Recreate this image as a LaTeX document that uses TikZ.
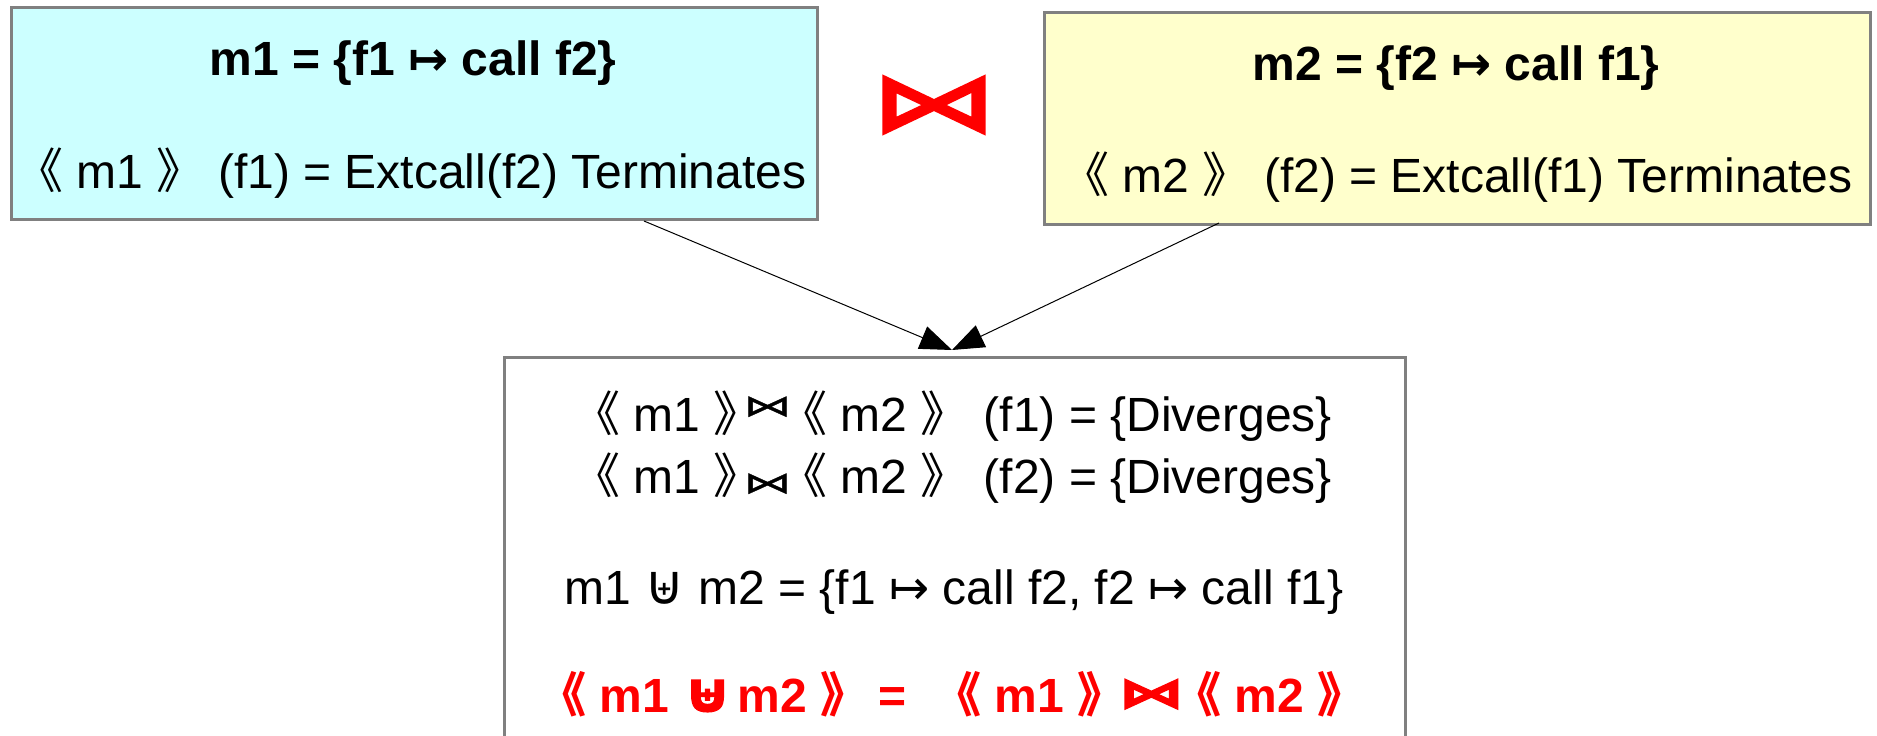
\documentclass[tikz,border=0pt]{standalone}
\usepackage{fontspec}
\setmainfont{Liberation Sans}
\newfontfamily\cjk{Noto Sans CJK SC}
\newfontfamily\cjkh[RawFeature=+halt]{Noto Sans CJK SC}
\newfontfamily\djv{DejaVu Sans}
\newfontfamily\djva[FakeBold=1]{DejaVu Sans}
\newfontfamily\djvb[FakeBold=2]{DejaVu Sans}
\newfontfamily\djvB[FakeBold=3]{DejaVu Sans}
\usetikzlibrary{arrows.meta}
\newcommand\dL{{\cjk 《}}
\newcommand\dR{{\cjk 》}}
\newcommand\hL{{\cjkh 《}}
\newcommand\hR{{\cjkh 》}}
\newcommand\mto{{\djv ↦}}
\newcommand\mplus{{\djv\scalebox{1.15}{⊎}}}
\newcommand\mplusb{{\djvb\scalebox{1.3}[1.15]{⊎}}}
\newcommand\btsup{\hspace{6pt}\raisebox{15pt}{\djva\fontsize{48}{48}\selectfont\scalebox{1}[0.62]{⋈}}\hspace{12pt}}
\newcommand\btsub{\hspace{6pt}\raisebox{0pt}{\djva\fontsize{48}{48}\selectfont\scalebox{1}[0.62]{⋈}}\hspace{12pt}}
\newcommand\btred{\hspace{17pt}\raisebox{5pt}{\djvB\fontsize{66}{66}\selectfont\scalebox{1}[0.62]{⋈}}\hspace{13pt}}
\tikzset{
  box/.style={draw=black!50, line width=3pt, inner sep=0pt, anchor=north west},
  txt/.style={inner sep=0pt, anchor=base, font=\fontsize{48}{56}\selectfont},
  ttl/.style={inner sep=0pt, anchor=base, font=\bfseries\fontsize{48}{56}\selectfont},
  arr/.style={line width=1pt, -{Triangle[length=32pt,width=24pt]}}
}
\begin{document}
\begin{tikzpicture}[x=1pt,y=-1pt]
\useasboundingbox (0,0) rectangle (1877,736);
\clip (0,0) rectangle (1877,736);
\node[box, fill={rgb,255:red,204;green,255;blue,255}, minimum width=806pt, minimum height=212pt] (b1) at (9.6,6) {};
\node[box, fill={rgb,255:red,255;green,255;blue,204}, minimum width=826pt, minimum height=212pt] (b2) at (1043,11) {};
\node[box, fill=white, minimum width=901pt, minimum height=420pt] (b3) at (503,356) {};
\node[ttl] (t1) at (413,75) {m1 = \{f1 \mto\ call f2\}};
\node[txt] (l1) at (411,188) {\dL\ m1 \dR\ (f1) = Extcall(f2) Terminates};
\node[ttl] (t2) at (1456,80) {m2 = \{f2 \mto\ call f1\}};
\node[txt] (l2) at (1457,192) {\dL\ m2 \dR\ (f2) = Extcall(f1) Terminates};
\node[inner sep=0pt, text=red, font=\djvB\fontsize{126}{126}\selectfont] (bt) at (934,105) {\scalebox{1}[0.65]{⋈}};
\node[txt, anchor=base west] (r1) at (572,431) {\dL\ m1 \hR\btsup\hL\ m2 \dR\hspace{15pt}(f1) = \{Diverges\}};
\node[txt, anchor=base west] (r2) at (572,493) {\dL\ m1 \hR\btsub\hL\ m2 \dR\hspace{15pt}(f2) = \{Diverges\}};
\node[txt] (r3) at (954,604) {m1 \mplus\ m2 = \{f1 \mto\ call f2, f2 \mto\ call f1\}};
\node[txt, anchor=base west, text=red, font=\bfseries\fontsize{48}{56}\selectfont] (r4) at (538,712) {\dL\ m1 \mplusb\hspace{5pt}m2 \dR\hspace{10pt}=\ \ \dL\ m1 \hR\btred\hL\ m2 \dR};
\coordinate (s1) at (644,221);
\coordinate (s2) at (1219,223);
\coordinate (tp) at (952,350);
\draw[arr] (s1) -- (tp);
\draw[arr] (s2) -- (tp);
\end{tikzpicture}
\end{document}
